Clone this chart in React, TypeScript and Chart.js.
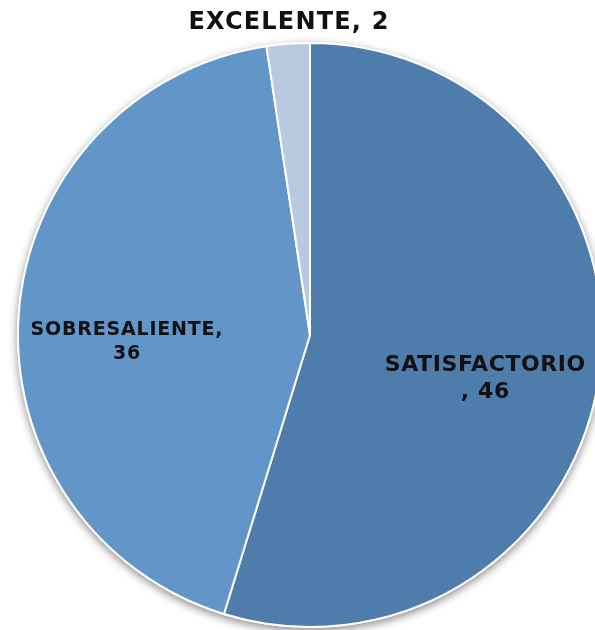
import React, { useEffect, useRef } from "react";
import { Chart, registerables } from "chart.js";

Chart.register(...registerables);

const categories = ["SATISFACTORIO", "SOBRESALIENTE", "EXCELENTE"];
const values = [46, 36, 2];
const colors = ["#4e7dac", "#6295c8", "#b9c9e0"];

// label layout: radius fraction along mid-angle, extra nudge, line breaks, font size
const labelLines = [["SATISFACTORIO", ", 46"], ["SOBRESALIENTE,", "36"], ["EXCELENTE, 2"]];
const labelRadius = [0.62, 0.63, 1.08];
const labelNudgeX = [-4, 0, 2];
const labelNudgeY = [15, 19, -1];
const labelFont = [22, 19, 24];
const labelSpacing = [0.6, 0.8, 1.2];
const labelLineGap = [27, 24, 0];

const FONT = "'DejaVu Sans', sans-serif";

const shadowPlugin = {
  id: "pieShadow",
  beforeDatasetsDraw(chart: any) {
    const meta = chart.getDatasetMeta(0);
    const arc = meta.data[0];
    if (!arc) return;
    const { x, y, outerRadius } = arc.getProps(["x", "y", "outerRadius"], true);
    const ctx = chart.ctx;
    ctx.save();
    ctx.shadowColor = "rgba(0,0,0,0.45)";
    ctx.shadowBlur = 8;
    ctx.shadowOffsetX = 0;
    ctx.shadowOffsetY = 3;
    ctx.fillStyle = "#ffffff";
    ctx.beginPath();
    ctx.arc(x, y, outerRadius + 1, 0, Math.PI * 2);
    ctx.fill();
    ctx.restore();
  },
};

const labelPlugin = {
  id: "pieLabels",
  afterDatasetsDraw(chart: any) {
    const meta = chart.getDatasetMeta(0);
    const ctx = chart.ctx;
    ctx.save();
    ctx.fillStyle = "#111111";
    ctx.textAlign = "center";
    ctx.textBaseline = "alphabetic";
    meta.data.forEach((arc: any, i: number) => {
      const { x, y, startAngle, endAngle, outerRadius } = arc.getProps(
        ["x", "y", "startAngle", "endAngle", "outerRadius"],
        true
      );
      const mid = (startAngle + endAngle) / 2;
      const r = outerRadius * labelRadius[i];
      const cx = x + Math.cos(mid) * r + labelNudgeX[i];
      const cy = y + Math.sin(mid) * r + labelNudgeY[i];
      ctx.font = `bold ${labelFont[i]}px ${FONT}`;
      (ctx as any).letterSpacing = `${labelSpacing[i]}px`;
      const lines = labelLines[i];
      const asc = ctx.measureText("E").actualBoundingBoxAscent;
      const total = (lines.length - 1) * labelLineGap[i];
      lines.forEach((ln, k) => {
        const ly = cy - total / 2 + k * labelLineGap[i];
        ctx.fillText(ln, cx + labelSpacing[i] / 2, ly + asc / 2);
      });
    });
    ctx.restore();
  },
};

export default function App() {
  const ref = useRef<HTMLCanvasElement>(null);
  useEffect(() => {
    if (!ref.current) return;
    const chart = new Chart(ref.current, {
      type: "pie",
      data: {
        labels: categories,
        datasets: [
          {
            data: values,
            backgroundColor: colors,
            borderColor: "#ffffff",
            borderWidth: 2,
          },
        ],
      },
      options: {
        responsive: false,
        animation: false,
        radius: 292,
        layout: { padding: 0 },
        plugins: {
          legend: { display: false },
          tooltip: { enabled: false },
          title: { display: false },
        },
      } as any,
      plugins: [shadowPlugin, labelPlugin],
    });
    return () => chart.destroy();
  }, []);
  return (
    <div
      style={{
        position: "fixed",
        left: 0,
        top: 0,
        width: 595,
        height: 630,
        overflow: "hidden",
        background: "#ffffff",
      }}
    >
      <canvas ref={ref} width={620} height={670} style={{ display: "block" }} />
    </div>
  );
}
